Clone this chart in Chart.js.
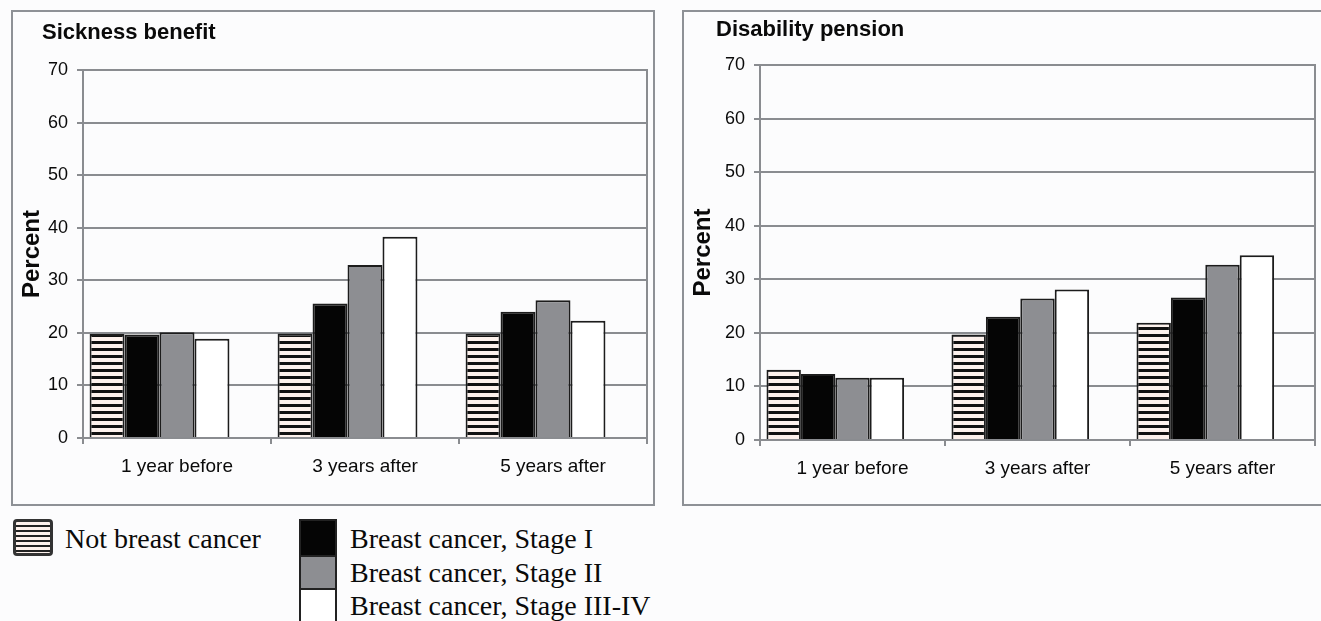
<!DOCTYPE html>
<html lang="en">
<head>
<meta charset="UTF-8">
<title>Sickness benefit and disability pension</title>
<style>
  body {
    margin: 0;
    width: 1321px;
    height: 621px;
    position: relative;
    overflow: hidden;
    background: #fcfcfd;
    font-family: "Liberation Sans", Arial, sans-serif;
  }
  .panel {
    position: absolute;
    border: 2px solid #8e9196;
    box-sizing: border-box;
  }
  .panel canvas { position: absolute; left: 0; top: 0; }
  .title {
    position: absolute;
    font-weight: bold;
    font-size: 22px;
    line-height: 22px;
    color: #0a0a0a;
    white-space: nowrap;
  }
  .legend-text {
    position: absolute;
    font-family: "Liberation Serif", "Times New Roman", serif;
    font-size: 28px;
    line-height: 28px;
    color: #0a0a0a;
    white-space: nowrap;
  }
  .hatch-box {
    position: absolute;
    left: 13px; top: 519px; width: 40px; height: 37px;
    box-sizing: border-box;
    border: 3px solid #333;
    border-radius: 4px;
    background: repeating-linear-gradient(to bottom, #fdf1ec 0px, #fdf1ec 3px, #222 3px, #222 5px);
  }
  .stack-box {
    position: absolute;
    left: 299px; top: 519px; width: 38px; height: 110px;
    box-sizing: border-box;
    border: 2px solid #222;
  }
  .stack-box div { height: 34px; }
</style>
</head>
<body>
  <div class="panel" style="left:11px; top:10px; width:644px; height:496px;">
    <canvas id="sickness" width="640" height="492"></canvas>
  </div>
  <div class="panel" style="left:682px; top:10px; width:645px; height:496px;">
    <canvas id="disability" width="637" height="492"></canvas>
  </div>
  <div class="title" style="left:42px; top:21px;">Sickness benefit</div>
  <div class="title" style="left:716px; top:18px;">Disability pension</div>

  <div class="hatch-box"></div>
  <div class="legend-text" style="left:65px; top:525px;">Not breast cancer</div>
  <div class="stack-box">
    <div style="background:#050505;"></div>
    <div style="background:#8d8e92; border-top:2px solid #222; height:31px;"></div>
    <div style="background:#ffffff; border-top:2px solid #222;"></div>
  </div>
  <div class="legend-text" style="left:350px; top:525px;">Breast cancer, Stage I</div>
  <div class="legend-text" style="left:350px; top:559px;">Breast cancer, Stage II</div>
  <div class="legend-text" style="left:350px; top:592px;">Breast cancer, Stage III-IV</div>

  <script src="https://cdn.jsdelivr.net/npm/chart.js@4.4.1/dist/chart.umd.min.js"></script>
  <script>
    const categories = ['1 year before', '3 years after', '5 years after'];
    const seriesNames = ['Not breast cancer', 'Breast cancer, Stage I', 'Breast cancer, Stage II', 'Breast cancer, Stage III-IV'];
    const yTicks = [0, 10, 20, 30, 40, 50, 60, 70];

    // Sickness benefit (%)
    const sickNotBC = [19.8, 19.9, 19.9];
    const sickStage1 = [19.7, 25.6, 24.0];
    const sickStage2 = [20.1, 32.9, 26.2];
    const sickStage34 = [18.9, 38.3, 22.3];

    // Disability pension (%)
    const disNotBC = [13.1, 19.7, 21.9];
    const disStage1 = [12.3, 23.0, 26.6];
    const disStage2 = [11.6, 26.4, 32.7];
    const disStage34 = [11.6, 28.1, 34.5];

    const gridGray = '#8a8c90';
    const edge = '#1c1c1c';

    function stripes() {
      const c = document.createElement('canvas');
      c.width = 8; c.height = 7;
      const g = c.getContext('2d');
      g.fillStyle = '#fdf1ec';
      g.fillRect(0, 0, 8, 7);
      g.fillStyle = '#111';
      g.fillRect(0, 0, 8, 3);
      return g.createPattern(c, 'repeat');
    }

    function makeChart(id, series, box) {
      const fills = [stripes(), '#050505', '#8d8e92', '#ffffff'];
      const datasets = series.map((vals, i) => ({
        label: seriesNames[i],
        data: vals,
        backgroundColor: fills[i],
        borderColor: edge,
        borderWidth: 2
      }));
      // empty slot after the four bars, as in the original layout
      datasets.push({ label: '', data: categories.map(() => null) });

      return new Chart(document.getElementById(id), {
        type: 'bar',
        data: { labels: categories, datasets: datasets },
        options: {
          responsive: false,
          animation: false,
          categoryPercentage: 0.93,
          barPercentage: 1,
          layout: { padding: { left: 0, top: box.top, right: box.right, bottom: 0 } },
          plugins: { legend: { display: false }, tooltip: { enabled: false } },
          scales: {
            x: {
              grid: { display: true, drawOnChartArea: false, drawTicks: true, tickLength: 6, color: gridGray, lineWidth: 2 },
              border: { display: true, color: gridGray, width: 2 },
              ticks: { color: '#0a0a0a', padding: 11, font: { family: 'Liberation Sans', size: 19 } },
              afterFit: s => { s.height = box.bottom; }
            },
            y: {
              min: 0,
              max: 70,
              afterBuildTicks: s => { s.ticks = yTicks.map(v => ({ value: v })); },
              grid: { color: gridGray, lineWidth: 2, tickLength: 6 },
              border: { display: true, color: gridGray, width: 2 },
              ticks: { color: '#0a0a0a', padding: 9, font: { family: 'Liberation Sans', size: 18 } },
              title: { display: true, text: 'Percent', color: '#0a0a0a', padding: { top: 5, bottom: 0 },
                       font: { family: 'Liberation Sans', size: 24, weight: 'bold' } },
              afterFit: s => { s.width = box.left; }
            },
            y1: {
              position: 'right',
              min: 0,
              max: 70,
              grid: { display: false },
              border: { display: true, color: gridGray, width: 2 },
              ticks: { display: false },
              afterFit: s => { s.width = 0; }
            }
          }
        }
      });
    }

    makeChart('sickness', [sickNotBC, sickStage1, sickStage2, sickStage34],
      { left: 70, top: 58, right: 6, bottom: 66 });
    makeChart('disability', [disNotBC, disStage1, disStage2, disStage34],
      { left: 76, top: 53, right: 6, bottom: 64 });
  </script>
</body>
</html>
